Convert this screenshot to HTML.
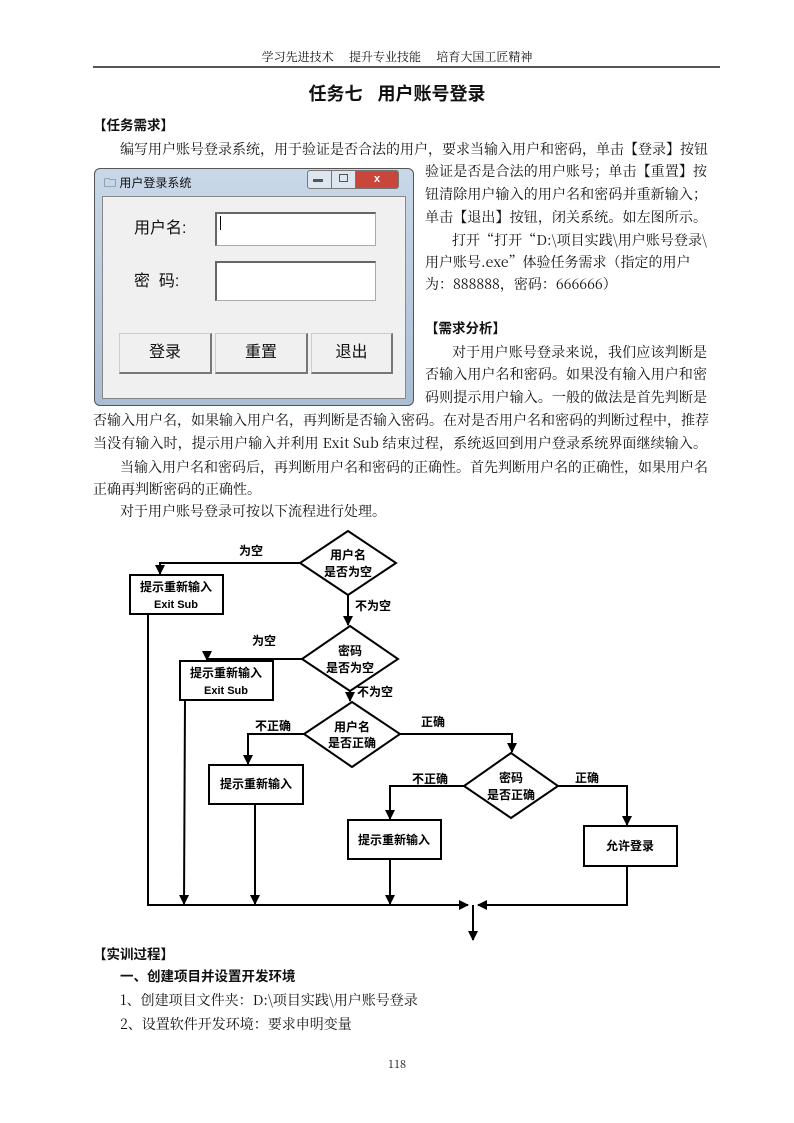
<!DOCTYPE html>
<html><head><meta charset="utf-8"><style>
body{margin:0;width:794px;height:1123px;background:#fff;position:relative;overflow:hidden;font-family:"Liberation Serif","Noto Serif CJK SC",serif;color:#111}
.t{position:absolute;white-space:nowrap;font-size:14px;line-height:16px;font-family:"Noto Serif CJK SC",serif}
.j{text-align:justify;text-align-last:justify}
.f{left:93px;width:614px}
.r{left:425px;width:282px}
.b{font-family:"Liberation Sans","Noto Sans CJK SC",sans-serif;font-weight:bold}
.s{font-family:"Liberation Sans","Noto Sans CJK SC",sans-serif}
</style></head><body>
<div class="t" style="left:0;width:794px;text-align:center;top:49px;font-size:12px">学习先进技术&nbsp;&nbsp;&nbsp;&nbsp;&nbsp;提升专业技能&nbsp;&nbsp;&nbsp;&nbsp;&nbsp;培育大国工匠精神</div>
<div style="position:absolute;left:93px;top:66px;width:627px;height:2px;background:#555"></div>
<div class="t b" style="left:0;width:794px;text-align:center;top:83px;font-size:18px;line-height:22px">任务七&nbsp;&nbsp;&nbsp;用户账号登录</div>
<div class="t b" style="left:93px;top:118px;font-size:13.5px">【任务需求】</div>
<div class="t j" style="left:120px;width:587px;top:141px">编写用户账号登录系统，用于验证是否合法的用户，要求当输入用户和密码，单击【登录】按钮</div>
<div class="t j r" style="top:163px">验证是否是合法的用户账号；单击【重置】按</div>
<div class="t j r" style="top:186px">钮清除用户输入的用户名和密码并重新输入；</div>
<div class="t j r" style="top:209px">单击【退出】按钮，闭关系统。如左图所示。</div>
<div class="t j" style="left:452px;width:255px;top:232px">打开“打开“D:\项目实践\用户账号登录\</div>
<div class="t" style="left:425px;top:254px">用户账号.exe”体验任务需求（指定的用户</div>
<div class="t" style="left:425px;top:276px">为：888888，密码：666666）</div>
<div class="t b" style="left:425px;top:321px;font-size:13.5px">【需求分析】</div>
<div class="t j" style="left:452px;width:255px;top:344px">对于用户账号登录来说，我们应该判断是</div>
<div class="t j r" style="top:366px">否输入用户名和密码。如果没有输入用户和密</div>
<div class="t j r" style="top:389px">码则提示用户输入。一般的做法是首先判断是</div>
<div class="t j f" style="top:412px">否输入用户名，如果输入用户名，再判断是否输入密码。在对是否用户名和密码的判断过程中，推荐</div>
<div class="t j f" style="top:435px">当没有输入时，提示用户输入并利用 Exit Sub 结束过程，系统返回到用户登录系统界面继续输入。</div>
<div class="t j" style="left:120px;width:587px;top:459px">当输入用户名和密码后，再判断用户名和密码的正确性。首先判断用户名的正确性，如果用户名</div>
<div class="t" style="left:93px;top:481px">正确再判断密码的正确性。</div>
<div class="t" style="left:120px;top:503px">对于用户账号登录可按以下流程进行处理。</div>

<!-- window -->
<div style="position:absolute;left:94px;top:168px;width:318px;height:236px;border:1px solid #555;border-radius:6px;background:linear-gradient(#c9d8e8,#a9bdd3)"></div>
<div class="t s" style="left:104px;top:175px;font-size:12px">🗀 用户登录系统</div>
<div style="position:absolute;left:307px;top:170px;width:23px;height:17px;border:1px solid #777;background:#dde5ee;border-radius:3px 0 0 3px"></div>
<div style="position:absolute;left:331px;top:170px;width:23px;height:17px;border:1px solid #777;background:#dde5ee"></div>
<div style="position:absolute;left:355px;top:170px;width:42px;height:17px;border:1px solid #777;background:#c9463d;color:#fff;font:bold 11px 'Liberation Sans';text-align:center;line-height:17px;border-radius:0 3px 3px 0">x</div>
<div style="position:absolute;left:313px;top:179px;width:10px;height:3px;background:#555"></div>
<div style="position:absolute;left:339px;top:174px;width:7px;height:6px;border:1px solid #555"></div>
<div style="position:absolute;left:102px;top:196px;width:302px;height:201px;background:#f0f0f0;border:1px solid #888"></div>
<div class="t s" style="left:134px;top:219px;font-size:16px;line-height:20px">用户名:</div>
<div class="t s" style="left:134px;top:272px;font-size:16px;line-height:20px">密&nbsp;&nbsp;码:</div>
<div style="position:absolute;left:215px;top:212px;width:158px;height:31px;background:#fff;border:1px solid #aaa;border-top:2px solid #666;border-left:2px solid #666"></div>
<div style="position:absolute;left:220px;top:216px;width:1px;height:14px;background:#000"></div>
<div style="position:absolute;left:215px;top:261px;width:158px;height:37px;background:#fff;border:1px solid #aaa;border-top:2px solid #666;border-left:2px solid #666"></div>
<div class="s" style="position:absolute;left:119px;top:333px;width:90px;height:38px;background:#f0f0f0;border:1px solid #ccc;border-right:2px solid #777;border-bottom:2px solid #777;font-size:16px;text-align:center;line-height:38px">登录</div>
<div class="s" style="position:absolute;left:215px;top:333px;width:90px;height:38px;background:#f0f0f0;border:1px solid #ccc;border-right:2px solid #777;border-bottom:2px solid #777;font-size:16px;text-align:center;line-height:38px">重置</div>
<div class="s" style="position:absolute;left:311px;top:333px;width:79px;height:38px;background:#f0f0f0;border:1px solid #ccc;border-right:2px solid #777;border-bottom:2px solid #777;font-size:16px;text-align:center;line-height:38px">退出</div>

<svg style="position:absolute;left:0;top:0" width="794" height="1123" font-family="Liberation Sans,Noto Sans CJK SC,sans-serif" font-weight="bold" font-size="12">
<defs><marker id="a" viewBox="0 0 10 10" refX="9" refY="5" markerWidth="5" markerHeight="5" orient="auto"><path d="M0,0L10,5L0,10z" fill="#000"/></marker></defs>
<g stroke="#000" stroke-width="2" fill="none">
<polygon points="348,531 396,563 348,595 300,563" fill="#fff"/>
<polygon points="350,626 398,659 350,691 302,659" fill="#fff"/>
<polygon points="352,702 400,734 352,767 304,734" fill="#fff"/>
<polygon points="511,753 558,786 511,818 464,786" fill="#fff"/>
<rect x="130" y="575" width="93" height="39"/>
<rect x="180" y="661" width="93" height="39"/>
<rect x="209" y="765" width="94" height="39"/>
<rect x="348" y="820" width="93" height="39"/>
<rect x="584" y="826" width="93" height="40"/>
<polyline points="300,563 160,563 160,574" marker-end="url(#a)"/>
<line x1="348" y1="595" x2="348" y2="625" marker-end="url(#a)"/>
<polyline points="302,659 207,659 207,660" marker-end="url(#a)"/>
<line x1="350" y1="691" x2="350" y2="701" marker-end="url(#a)"/>
<polyline points="304,734 248,734 248,764" marker-end="url(#a)"/>
<polyline points="400,734 512,734 512,752" marker-end="url(#a)"/>
<polyline points="464,786 390,786 390,819" marker-end="url(#a)"/>
<polyline points="558,786 627,786 627,825" marker-end="url(#a)"/>
<polyline points="148,614 148,905 468,905" marker-end="url(#a)"/>
<line x1="185" y1="700" x2="184" y2="904" marker-end="url(#a)"/>
<line x1="255" y1="804" x2="255" y2="904" marker-end="url(#a)"/>
<line x1="390" y1="859" x2="390" y2="904" marker-end="url(#a)"/>
<polyline points="627,866 627,905 478,905" marker-end="url(#a)"/>
<line x1="473" y1="905" x2="473" y2="940" marker-end="url(#a)"/>
</g>
<g text-anchor="middle">
<text x="348" y="559">用户名</text><text x="348" y="576">是否为空</text>
<text x="350" y="655">密码</text><text x="350" y="672">是否为空</text>
<text x="352" y="731">用户名</text><text x="352" y="747">是否正确</text>
<text x="511" y="782">密码</text><text x="511" y="799">是否正确</text>
<text x="176" y="591">提示重新输入</text><text x="176" y="608" font-size="11">Exit Sub</text>
<text x="226" y="677">提示重新输入</text><text x="226" y="694" font-size="11">Exit Sub</text>
<text x="256" y="788">提示重新输入</text>
<text x="394" y="844">提示重新输入</text>
<text x="630" y="850">允许登录</text>
<text x="251" y="555">为空</text>
<text x="373" y="610">不为空</text>
<text x="264" y="645">为空</text>
<text x="375" y="696">不为空</text>
<text x="273" y="730">不正确</text>
<text x="433" y="726">正确</text>
<text x="430" y="783">不正确</text>
<text x="587" y="782">正确</text>
</g>
</svg>

<div class="t b" style="left:93px;top:947px;font-size:13.5px">【实训过程】</div>
<div class="t b" style="left:120px;top:969px;font-size:13.5px">一、创建项目并设置开发环境</div>
<div class="t" style="left:120px;top:992px">1、创建项目文件夹：D:\项目实践\用户账号登录</div>
<div class="t" style="left:120px;top:1016px">2、设置软件开发环境：要求申明变量</div>
<div class="t" style="left:0;width:794px;text-align:center;top:1056px;font-size:11px">118</div>
</body></html>
